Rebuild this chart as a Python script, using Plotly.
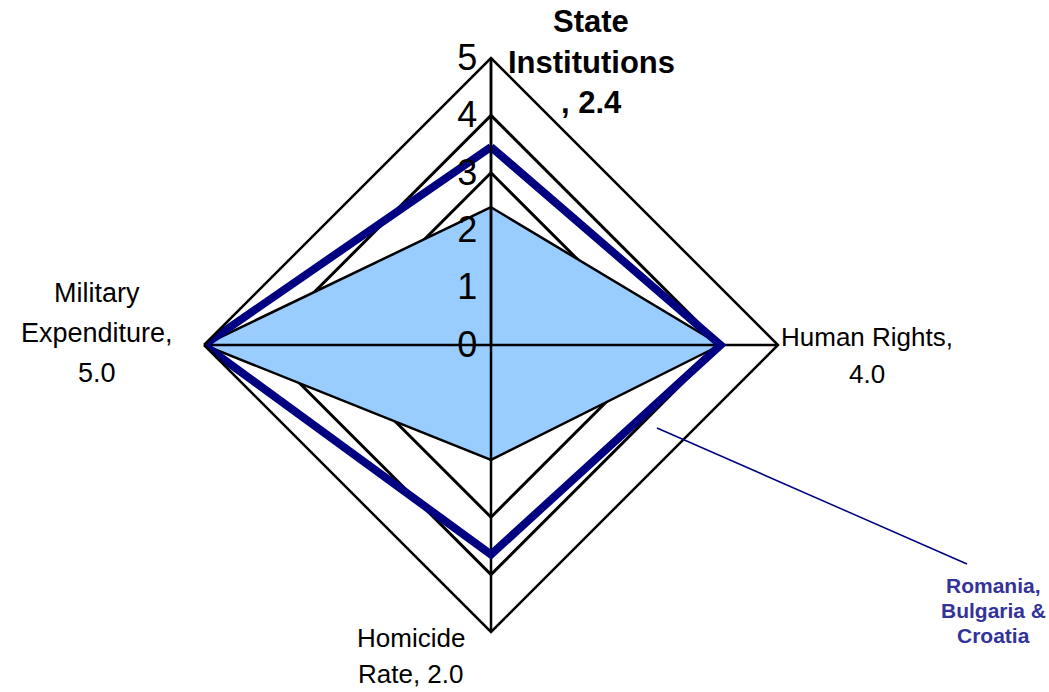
import plotly.graph_objects as go

# ---------------- data ----------------
categories = ["State Institutions", "Human Rights", "Homicide Rate", "Military Expenditure"]
country_values = [2.4, 4.0, 2.0, 5.0]          # filled (light blue) series
region_values = [3.45, 4.0, 3.65, 5.0]         # Romania, Bulgaria & Croatia
region_name = "Romania,<br>Bulgaria &<br>Croatia"
radial_ticks = [0, 1, 2, 3, 4, 5]
r_max = 5

W, H = 1049, 692
FONT = "Liberation Sans, Arial, sans-serif"

# polar geometry (pixels)
cx, cy, rad = 491, 345, 287

def closed(seq):
    return list(seq) + [seq[0]]

fig = go.Figure()

# filled series
fig.add_trace(go.Scatterpolar(
    r=closed(country_values), theta=closed(categories),
    mode="lines", fill="toself", fillcolor="#99CCFF",
    line=dict(color="black", width=2.5), hoverinfo="skip", showlegend=False,
))

# spokes (axis cross) drawn above the fill
spoke_r, spoke_t = [], []
for i in range(2):
    spoke_r += [r_max, 0, r_max, None]
    spoke_t += [categories[i], categories[i], categories[i + 2], None]
fig.add_trace(go.Scatterpolar(
    r=spoke_r, theta=spoke_t, mode="lines",
    line=dict(color="black", width=2.5), hoverinfo="skip", showlegend=False,
    connectgaps=False,
))

# region line
fig.add_trace(go.Scatterpolar(
    r=closed(region_values), theta=closed(categories),
    mode="lines", line=dict(color="#000080", width=8),
    hoverinfo="skip", showlegend=False, name="Romania, Bulgaria & Croatia",
))

fig.update_layout(
    width=W, height=H, autosize=False,
    margin=dict(l=0, r=0, t=0, b=0),
    paper_bgcolor="white", plot_bgcolor="white",
    showlegend=False,
    font=dict(family=FONT, color="black"),
    polar=dict(
        domain=dict(x=[(cx - rad) / W, (cx + rad) / W],
                    y=[(H - cy - rad) / H, (H - cy + rad) / H]),
        bgcolor="white",
        gridshape="linear",
        angularaxis=dict(
            categoryorder="array", categoryarray=categories,
            direction="clockwise", rotation=90,
            showticklabels=False, ticks="",
            showline=True, linecolor="black", linewidth=2.5,
            showgrid=False,
        ),
        radialaxis=dict(
            range=[0, r_max], tickvals=radial_ticks,
            angle=90, tickangle=90, side="counterclockwise",
            showline=True, linecolor="black", linewidth=2.5,
            showgrid=True, gridcolor="black", gridwidth=2.5,
            ticks="", tickfont=dict(size=36, color="black", family=FONT),
            layer="above traces",
        ),
    ),
)

# data labels (category, value)
def v(i):
    return f"{country_values[i]:.1f}"

labels = [
    # (lines, center x px, first baseline px, spacing, size, bold, color)
    (["State", "Institutions", ", " + v(0)], 591, 32, 40.5, 31, True, "black"),
    (["Human Rights,", v(1)], 867, 346, 37, 26, False, "black"),
    (["Homicide", "Rate, " + v(2)], 411, 647, 36, 26, False, "black"),
    (["Military", "Expenditure,", v(3)], 97, 302, 40, 27, False, "black"),
    (region_name.split("<br>"), 993, 592, 25, 21, True, "#333399"),
]
for lines, x, y0, sp, fs, bold, col in labels:
    for k, line in enumerate(lines):
        base = y0 + k * sp
        yc = base - 0.33 * fs
        fig.add_annotation(
            x=x / W, y=1 - yc / H, xref="paper", yref="paper",
            text=f"<b>{line}</b>" if bold else line,
            showarrow=False, xanchor="center", yanchor="middle",
            font=dict(family=FONT, size=fs, color=col),
        )

# leader line for the series label
fig.add_shape(type="line", xref="paper", yref="paper",
              x0=657 / W, y0=1 - 428 / H, x1=967 / W, y1=1 - 564 / H,
              line=dict(color="#000080", width=1.5))

fig.write_html("out.html",
               config={"displayModeBar": False},
               post_script="document.body.style.margin='0px';document.body.style.overflow='hidden';")
